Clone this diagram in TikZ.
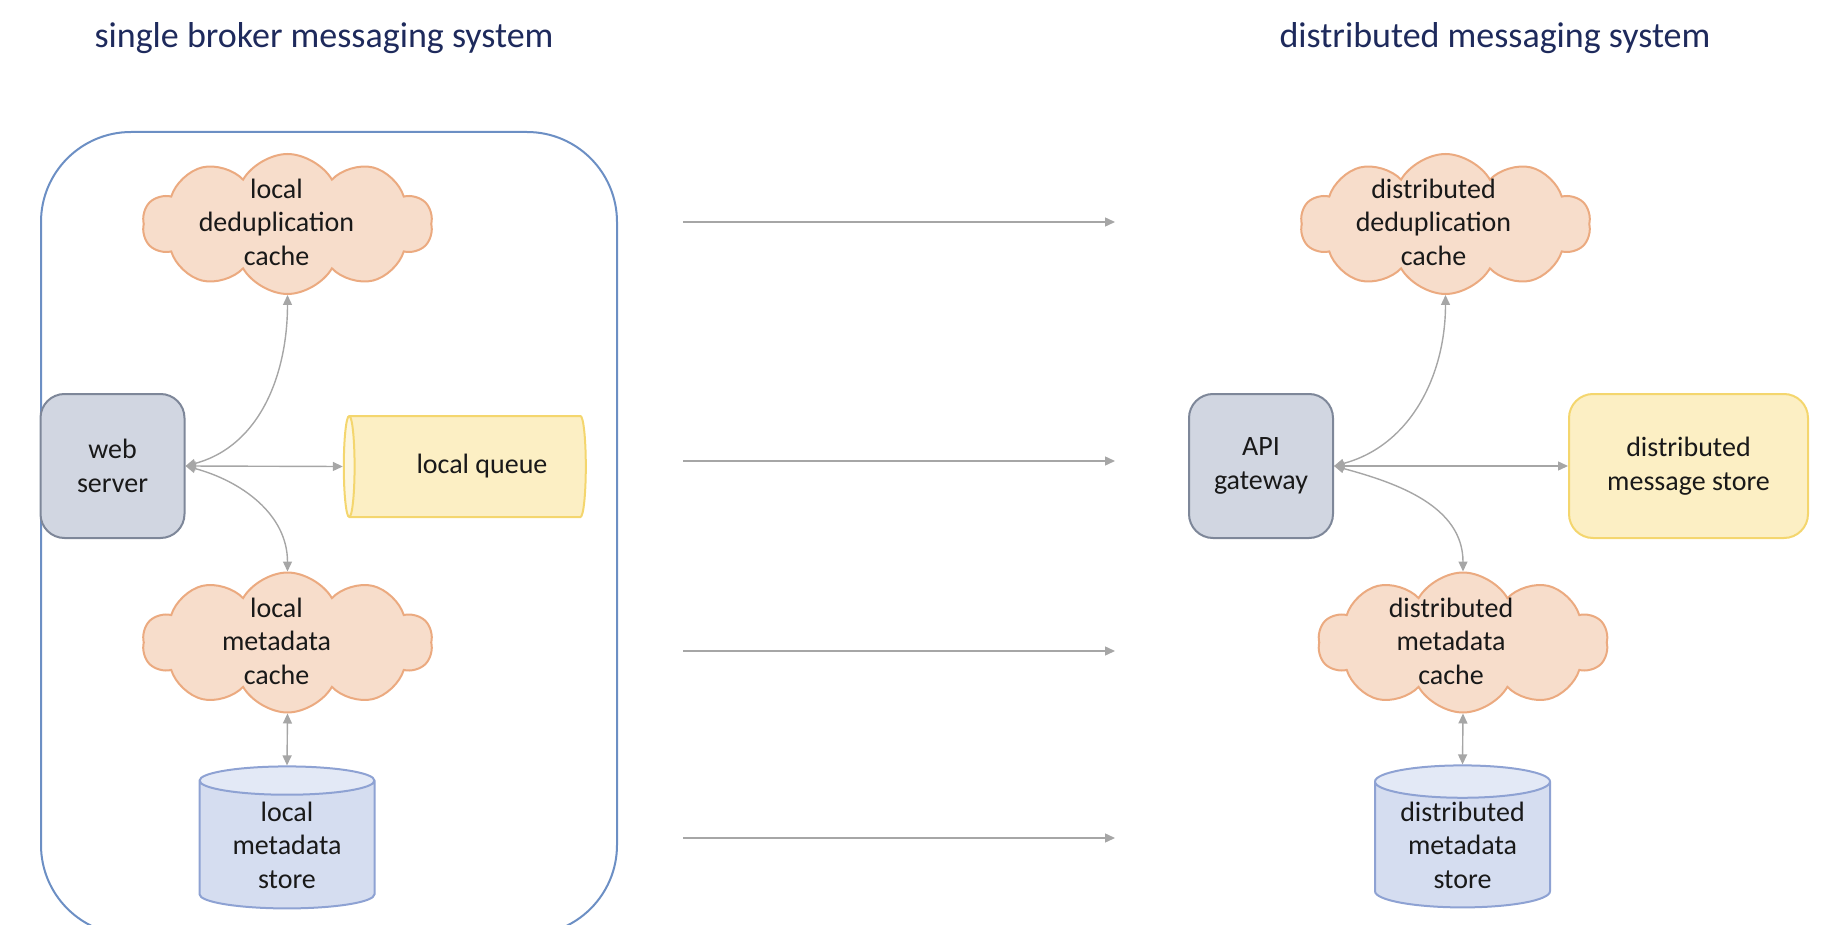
\documentclass[tikz,border=0pt]{standalone}
\usepackage{fontspec}
\setmainfont{Carlito}
\usetikzlibrary{shapes.symbols,shapes.geometric,arrows.meta}
\definecolor{titleblue}{RGB}{30,42,92}
\definecolor{frameblue}{RGB}{108,143,196}
\definecolor{cloudfill}{RGB}{247,221,203}
\definecolor{cloudline}{RGB}{235,170,128}
\definecolor{serverfill}{RGB}{209,214,225}
\definecolor{serverline}{RGB}{126,135,153}
\definecolor{queuefill}{RGB}{252,239,196}
\definecolor{queueend}{RGB}{253,246,222}
\definecolor{queueline}{RGB}{244,214,110}
\definecolor{storefill}{RGB}{213,221,240}
\definecolor{storeend}{RGB}{227,233,246}
\definecolor{storeline}{RGB}{142,162,211}
\definecolor{linkgray}{RGB}{166,166,166}
\begin{document}
\begin{tikzpicture}[x=0.5pt,y=-0.5pt,
  >={Triangle[length=5pt,width=4.5pt]},
  every node/.style={font=\fontsize{14}{16.8}\selectfont,text=black!90,align=center},
  heading/.style={font=\fontsize{18}{21}\selectfont,text=titleblue},
  puff/.style={cloud,cloud puffs=10,cloud puff arc=120,aspect=2.3,draw=cloudline,fill=cloudfill,
    line width=1pt,minimum width=145pt,minimum height=70pt,inner sep=0pt},
  server/.style={rectangle,rounded corners=12pt,draw=serverline,fill=serverfill,line width=1pt,
    minimum width=72pt,minimum height=72pt},
  msgbox/.style={rectangle,rounded corners=12pt,draw=queueline,fill=queuefill,line width=1pt,
    minimum width=119.5pt,minimum height=72pt},
  queue/.style={cylinder,shape border rotate=180,aspect=0.45,draw=queueline,line width=1pt,
    cylinder uses custom fill,cylinder body fill=queuefill,cylinder end fill=queueend,
    minimum width=50.5pt,minimum height=121pt,inner sep=0pt},
  store/.style={cylinder,shape border rotate=90,aspect=0.26,draw=storeline,line width=1pt,
    cylinder uses custom fill,cylinder body fill=storefill,cylinder end fill=storeend,
    minimum width=87.5pt,minimum height=71pt,inner sep=0pt},
  link/.style={draw=linkgray,line width=0.7pt}]
\useasboundingbox (0,0) rectangle (1826,925);
\clip (0,0) rectangle (1826,925);
\draw[frameblue,line width=1pt,rounded corners=45pt] (41,132) rectangle (617,935);
% headings
\node[heading] (lhead) at (324,38) {single broker messaging system};
\node[heading] (rhead) at (1495,38) {distributed messaging system};
% single broker
\node[puff] (ldedup) at (287.5,224) {};
\node (ldeduptxt) at (276.5,222) {local\\deduplication\\cache};
\node[server] (web) at (112.5,466) {web\\server};
\node[queue] (lqueue) at (468,466.5) {\hspace*{14pt}local queue};
\node[puff] (lcache) at (287.5,642.5) {};
\node (lcachetxt) at (276.5,641) {local\\metadata\\cache};
\node[store] (lstore) at (287,845) {local\\metadata\\store};
% distributed
\node[puff] (rdedup) at (1445.5,224) {};
\node (rdeduptxt) at (1433.5,222) {distributed\\deduplication\\cache};
\node[server] (api) at (1261,466) {API\\gateway};
\node[msgbox] (rmsg) at (1688.5,466) {distributed\\message store};
\node[puff] (rcache) at (1463,642.5) {};
\node (rcachetxt) at (1451,641) {distributed\\metadata\\cache};
\node[store] (rstore) at (1462.5,845) {distributed\\metadata\\store};
% links
\draw[link,<->] (web.east) to[out=15,in=-90] (ldedup.south);
\draw[link,<->] (web.east) -- (lqueue.west);
\draw[link,<->] (web.east) to[out=-15,in=90] (lcache.north);
\draw[link,<->] (lcache.south) -- (lstore.north);
\draw[link,<->] (api.east) to[out=15,in=-90] (rdedup.south);
\draw[link,<->] (api.east) -- (rmsg.west);
\draw[link,<->] (api.east) to[out=-15,in=90] (rcache.north);
\draw[link,<->] (rcache.south) -- (rstore.north);
% mapping arrows
\foreach \y [count=\i] in {222,461,651,838}{
  \coordinate (from\i) at (683,\y);
  \coordinate (to\i) at (1115,\y);
  \draw[link,->] (from\i) -- (to\i);
}
\end{tikzpicture}
\end{document}
